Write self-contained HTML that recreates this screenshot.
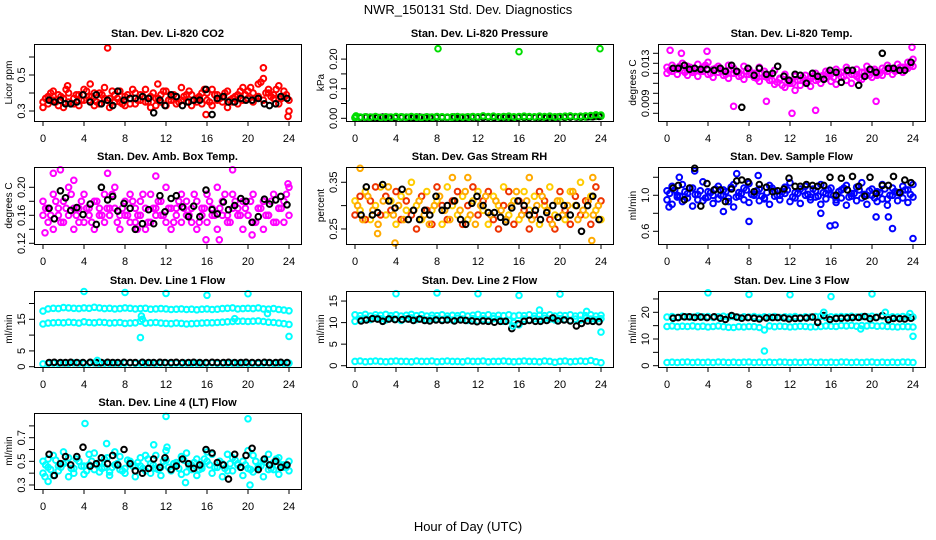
<!DOCTYPE html>
<html><head><meta charset="utf-8"><style>
html,body{margin:0;padding:0;background:#fff;}
svg{display:block;font-family:"Liberation Sans",sans-serif;}
</style></head><body>
<svg id="chart" width="936" height="540" viewBox="0 0 936 540" xmlns="http://www.w3.org/2000/svg">
<text x="468" y="14" text-anchor="middle" font-size="13">NWR_150131  Std. Dev. Diagnostics</text>
<text x="468" y="531" text-anchor="middle" font-size="13">Hour of Day (UTC)</text>
</svg>
<script>
// shared hour grids
const hours = [0,0.5,1,1.5,2,2.5,3,3.5,4,4.5,5,5.5,6,6.5,7,7.5,8,8.5,9,9.5,10,10.5,11,11.5,12,12.5,13,13.5,14,14.5,15,15.5,16,16.5,17,17.5,18,18.5,19,19.5,20,20.5,21,21.5,22,22.5,23,23.5,24];
const hoursMid = [0.25,0.75,1.25,1.75,2.25,2.75,3.25,3.75,4.25,4.75,5.25,5.75,6.25,6.75,7.25,7.75,8.25,8.75,9.25,9.75,10.25,10.75,11.25,11.75,12.25,12.75,13.25,13.75,14.25,14.75,15.25,15.75,16.25,16.75,17.25,17.75,18.25,18.75,19.25,19.75,20.25,20.75,21.25,21.75,22.25,22.75,23.25,23.75];
const blackHours = [0.6,1.1,1.7,2.2,2.7,3.3,3.9,4.6,5.2,5.7,6.3,6.8,7.3,7.9,8.5,9.0,9.7,10.3,10.8,11.4,11.9,12.5,13.0,13.6,14.2,14.7,15.3,15.9,16.5,17.0,17.6,18.1,18.7,19.3,19.8,20.4,21.0,21.6,22.1,22.7,23.2,23.8];
const xTicks = [0,4,8,12,16,20,24];

// CO2
const co2A = [0.35,0.38,0.41,0.33,0.37,0.40,0.34,0.39,0.42,0.36,0.33,0.40,0.43,0.37,0.35,0.41,0.38,0.34,0.40,0.36,0.42,0.38,0.33,0.39,0.41,0.36,0.38,0.43,0.35,0.39,0.37,0.34,0.40,0.42,0.36,0.38,0.41,0.35,0.39,0.43,0.37,0.40,0.45,0.48,0.42,0.39,0.44,0.41,0.36];
const co2B = [0.32,0.34,0.36,0.39,0.32,0.35,0.37,0.33,0.36,0.38,0.40,0.34,0.37,0.32,0.39,0.35,0.33,0.37,0.34,0.39,0.35,0.32,0.37,0.35,0.33,0.38,0.34,0.36,0.39,0.33,0.35,0.40,0.36,0.33,0.39,0.35,0.32,0.37,0.34,0.36,0.41,0.35,0.38,0.36,0.40,0.37,0.34,0.38,0.30];
const co2C = [0.37,0.40,0.35,0.38,0.42,0.34,0.39,0.36,0.41,0.38,0.35,0.39,0.36,0.41,0.37,0.34,0.39,0.42,0.36,0.38,0.35,0.40,0.37,0.41,0.36,0.39,0.35,0.38,0.41,0.36,0.38,0.42,0.35,0.39,0.37,0.40,0.36,0.38,0.41,0.39,0.43,0.37,0.46,0.40,0.38,0.42,0.37,0.39];
const co2OutHours = [6.3,21.5,23.9,4.6,11.2,2.4,15.9];
const co2Out = [0.65,0.54,0.27,0.45,0.45,0.44,0.28];
const co2Black = [0.36,0.35,0.36,0.34,0.34,0.35,0.39,0.35,0.39,0.34,0.36,0.33,0.41,0.36,0.37,0.37,0.38,0.37,0.29,0.36,0.33,0.39,0.38,0.33,0.35,0.36,0.36,0.42,0.28,0.37,0.38,0.35,0.35,0.37,0.36,0.36,0.37,0.34,0.33,0.34,0.38,0.37];

// Pressure
const presA = [0.003,0.004,0.005,0.004,0.006,0.003,0.005,0.004,0.006,0.005,0.004,0.006,0.005,0.003,0.005,0.004,0.006,0.005,0.004,0.005,0.006,0.004,0.005,0.006,0.005,0.008,0.006,0.007,0.005,0.006,0.007,0.005,0.006,0.007,0.006,0.005,0.007,0.006,0.007,0.005,0.006,0.007,0.008,0.006,0.007,0.008,0.009,0.012,0.011];
const presB = [0.001,0.002,0.003,0.001,0.002,0.003,0.002,0.001,0.003,0.002,0.003,0.001,0.002,0.003,0.002,0.001,0.003,0.002,0.003,0.002,0.001,0.003,0.002,0.003,0.002,0.004,0.003,0.002,0.004,0.003,0.002,0.003,0.004,0.002,0.003,0.004,0.003,0.002,0.004,0.003,0.004,0.003,0.004,0.005,0.003,0.004,0.005,0.006,0.007];
const presOutHours = [8.1,16.0,23.9,0.1];
const presOut = [0.235,0.225,0.235,0.008];
const presBlack = [0.003,0.004,0.003,0.003,0.004,0.003,0.003,0.004,0.003,0.003,0.004,0.003,0.003,0.004,0.003,0.003,0.004,0.003,0.003,0.004,0.003,0.003,0.004,0.003,0.003,0.004,0.003,0.003,0.004,0.003,0.003,0.004,0.003,0.003,0.004,0.004,0.004,0.004,0.005,0.005,0.005,0.006];

// Li-820 Temp
const tempA = [0.0126,0.0128,0.0124,0.0130,0.0127,0.0123,0.0129,0.0126,0.0131,0.0124,0.0127,0.0122,0.0128,0.0125,0.0121,0.0127,0.0124,0.0120,0.0126,0.0122,0.0118,0.0123,0.0115,0.0119,0.0112,0.0117,0.0113,0.0118,0.0115,0.0120,0.0117,0.0122,0.0119,0.0124,0.0121,0.0126,0.0119,0.0124,0.0121,0.0127,0.0123,0.0118,0.0125,0.0128,0.0124,0.0129,0.0126,0.0131,0.0134];
const tempB = [0.0120,0.0122,0.0119,0.0123,0.0118,0.0121,0.0117,0.0122,0.0119,0.0116,0.0121,0.0118,0.0115,0.0120,0.0117,0.0114,0.0119,0.0116,0.0112,0.0117,0.0113,0.0109,0.0114,0.0106,0.0110,0.0103,0.0108,0.0111,0.0107,0.0113,0.0110,0.0115,0.0112,0.0109,0.0116,0.0113,0.0110,0.0117,0.0114,0.0119,0.0116,0.0120,0.0118,0.0122,0.0119,0.0123,0.0121,0.0125,0.0127];
const tempC = [0.0123,0.0125,0.0127,0.0121,0.0126,0.0124,0.0122,0.0128,0.0120,0.0125,0.0123,0.0119,0.0124,0.0121,0.0118,0.0122,0.0119,0.0115,0.0120,0.0116,0.0113,0.0111,0.0108,0.0114,0.0110,0.0113,0.0116,0.0112,0.0117,0.0114,0.0118,0.0121,0.0116,0.0120,0.0117,0.0122,0.0119,0.0115,0.0121,0.0118,0.0124,0.0120,0.0123,0.0125,0.0122,0.0126,0.0124,0.0128];
const tempOutHours = [0.3,6.5,9.7,12.2,14.5,20.4,23.9,3.9,1.4];
const tempOut = [0.0143,0.0087,0.0092,0.0080,0.0083,0.0092,0.0146,0.0142,0.0140];
const tempBlack = [0.0125,0.0125,0.0128,0.0124,0.0125,0.0124,0.0124,0.0123,0.0125,0.0122,0.0128,0.0122,0.0086,0.0125,0.0118,0.0125,0.0119,0.0120,0.0127,0.0117,0.0113,0.0119,0.0118,0.0110,0.0120,0.0117,0.0114,0.0123,0.0121,0.0111,0.0123,0.0123,0.0108,0.0117,0.0124,0.0121,0.0140,0.0125,0.0125,0.0123,0.0123,0.0131];

// Amb box temp
const ambA = [0.18,0.17,0.19,0.16,0.18,0.20,0.17,0.15,0.19,0.17,0.18,0.16,0.19,0.17,0.20,0.16,0.18,0.19,0.15,0.18,0.17,0.19,0.16,0.18,0.20,0.17,0.16,0.19,0.18,0.15,0.18,0.17,0.19,0.16,0.20,0.18,0.16,0.19,0.17,0.18,0.16,0.19,0.17,0.18,0.16,0.19,0.17,0.18,0.20];
const ambB = [0.16,0.15,0.14,0.17,0.15,0.16,0.14,0.17,0.15,0.16,0.14,0.17,0.15,0.16,0.17,0.14,0.16,0.15,0.17,0.16,0.14,0.15,0.17,0.16,0.15,0.14,0.17,0.15,0.16,0.17,0.14,0.16,0.15,0.17,0.14,0.16,0.15,0.17,0.16,0.14,0.16,0.15,0.17,0.14,0.16,0.15,0.17,0.15,0.16];
const ambC = [0.17,0.16,0.18,0.15,0.17,0.19,0.16,0.18,0.17,0.15,0.18,0.16,0.17,0.19,0.15,0.17,0.16,0.18,0.16,0.19,0.15,0.17,0.18,0.16,0.17,0.15,0.18,0.17,0.16,0.19,0.15,0.17,0.18,0.16,0.17,0.19,0.15,0.18,0.16,0.17,0.18,0.15,0.17,0.16,0.18,0.15,0.17,0.19];
const ambOutHours = [0.2,1.0,1.7,6.3,11.0,15.9,17.2,18.5,20.4,23.9,3.0,9.2];
const ambOut = [0.135,0.22,0.225,0.22,0.216,0.125,0.125,0.225,0.132,0.205,0.21,0.14];
const ambBlack = [0.17,0.155,0.195,0.185,0.167,0.171,0.161,0.176,0.147,0.2,0.182,0.187,0.166,0.177,0.17,0.14,0.148,0.168,0.148,0.188,0.165,0.184,0.188,0.172,0.158,0.173,0.158,0.196,0.168,0.162,0.179,0.168,0.174,0.184,0.18,0.15,0.158,0.183,0.176,0.182,0.187,0.175];

// Gas stream RH
const rhA = [0.31,0.29,0.33,0.27,0.30,0.34,0.28,0.31,0.26,0.32,0.29,0.35,0.30,0.27,0.33,0.29,0.31,0.26,0.34,0.30,0.28,0.32,0.27,0.31,0.33,0.29,0.26,0.32,0.30,0.34,0.28,0.31,0.27,0.33,0.29,0.32,0.26,0.30,0.34,0.28,0.31,0.27,0.33,0.30,0.35,0.28,0.32,0.29,0.27];
const rhB = [0.28,0.32,0.27,0.31,0.34,0.28,0.32,0.29,0.33,0.27,0.31,0.28,0.25,0.32,0.29,0.26,0.34,0.30,0.27,0.31,0.33,0.26,0.30,0.34,0.28,0.31,0.33,0.27,0.25,0.30,0.33,0.26,0.31,0.29,0.25,0.28,0.33,0.31,0.27,0.25,0.33,0.29,0.26,0.32,0.28,0.31,0.26,0.34,0.31];
const rhC = [0.30,0.27,0.32,0.29,0.26,0.31,0.34,0.28,0.30,0.27,0.33,0.29,0.31,0.28,0.26,0.30,0.32,0.29,0.27,0.31,0.29,0.33,0.28,0.26,0.30,0.32,0.28,0.31,0.29,0.27,0.30,0.33,0.28,0.31,0.27,0.30,0.32,0.29,0.26,0.31,0.28,0.30,0.33,0.27,0.29,0.31,0.28,0.30];
const rhOutHours = [0.5,3.9,9.5,11.0,17.0,23.1,23.2,2.2];
const rhOut = [0.38,0.22,0.36,0.36,0.36,0.225,0.36,0.24];
const rhBlack = [0.28,0.34,0.28,0.285,0.345,0.31,0.295,0.335,0.27,0.29,0.27,0.29,0.28,0.32,0.29,0.30,0.31,0.27,0.26,0.305,0.32,0.30,0.285,0.285,0.275,0.265,0.295,0.31,0.30,0.28,0.29,0.27,0.285,0.30,0.275,0.30,0.28,0.30,0.245,0.30,0.32,0.27];

// Sample flow
const sampA = [1.05,1.10,0.98,1.12,1.02,1.08,0.95,1.15,1.04,1.00,1.10,1.06,0.97,1.12,1.03,1.08,1.13,1.01,1.07,0.96,1.11,1.05,1.00,1.09,1.14,1.03,1.07,1.10,0.98,1.05,1.12,1.02,1.08,0.95,1.06,1.11,1.02,1.09,1.14,1.00,1.07,1.04,1.12,0.96,1.08,1.03,1.10,1.06,1.12];
const sampB = [0.95,0.90,1.00,0.93,0.97,0.88,1.01,0.94,0.98,0.91,0.96,1.00,0.93,0.87,0.99,0.95,0.92,1.00,0.94,0.97,0.90,0.99,0.95,1.02,0.93,0.97,0.91,1.00,0.95,0.98,0.90,0.96,1.01,0.92,0.97,0.89,0.99,0.94,0.97,0.90,1.00,0.93,0.96,0.89,1.00,0.94,0.97,0.92,0.98];
const sampC = [1.02,1.06,0.99,1.04,1.08,1.01,1.05,0.97,1.03,1.07,1.00,1.04,1.09,0.98,1.02,1.06,1.01,1.05,0.99,1.03,1.08,1.00,1.04,1.06,0.98,1.02,1.05,1.01,1.07,0.99,1.03,1.06,1.00,1.04,1.08,0.98,1.02,1.06,1.01,1.05,0.97,1.03,1.07,1.00,1.04,1.02,1.06,1.01];
const sampOutHours = [0.2,2.7,5.5,8.0,15.0,15.9,16.4,20.4,21.6,22.0,24.0,8.9,1.2,6.8];
const sampOut = [0.87,1.27,0.82,0.71,0.80,0.66,0.67,0.76,0.76,0.63,0.52,1.22,1.20,1.24];
const sampBlack = [1.08,1.11,0.95,1.08,1.3,0.88,1.13,1.06,1.06,0.93,1.07,1.16,1.17,1.15,1.04,1.12,1.09,1.04,1.05,1.07,1.19,1.10,1.10,1.12,1.11,1.10,1.11,1.20,1.00,1.19,1.06,1.21,1.10,0.99,1.20,1.02,1.11,1.11,1.21,1.03,1.17,1.14];

// Line 1 flow
const l1A = [17.6,18.3,18.5,18.4,18.7,18.6,18.5,18.4,18.6,18.5,18.8,18.6,18.4,18.5,18.3,18.4,18.6,18.5,18.3,18.4,18.5,18.2,18.3,18.4,18.3,18.1,18.2,18.3,18.1,18.2,18.0,18.2,18.3,18.1,18.2,18.4,18.5,18.6,18.3,18.4,18.5,18.4,18.6,18.3,18.2,18.4,18.1,17.9,17.7];
const l1B = [13.5,13.8,13.9,14.0,13.9,14.1,14.0,13.8,14.2,14.0,13.9,14.1,14.0,13.8,13.9,14.0,13.7,13.8,13.9,14.4,13.8,13.9,14.0,13.8,13.7,13.6,13.8,13.7,13.5,13.6,13.7,13.8,13.9,13.9,14.0,14.1,14.2,14.3,14.4,14.4,14.3,14.4,14.5,14.3,14.1,14.0,13.8,13.6,13.4];
const l1C = [0.9,1.0,1.1,1.0,1.1,1.0,1.2,1.1,1.0,1.1,1.2,1.0,1.1,1.0,1.1,1.0,1.1,1.2,1.0,1.1,1.0,1.1,1.0,1.1,1.2,1.0,1.1,1.0,1.1,1.0,1.1,1.0,1.1,1.2,1.0,1.1,1.0,1.1,1.0,1.1,1.0,1.1,1.0,1.1,1.2,1.0,1.1,1.0,1.1];
const l1OutHours = [4,8,12,16,20,9.5,9.6,9.7,24,21.9,18.7,5.3];
const l1Out = [23.8,23.5,23.2,22.6,23.1,9.2,16.0,15.0,9.6,16.8,15.2,2.0];
const l1Black = [1.3,1.4,1.3,1.3,1.4,1.3,1.3,1.4,1.3,1.3,1.4,1.3,1.3,1.4,1.3,1.3,1.4,1.3,1.3,1.4,1.3,1.3,1.4,1.3,1.3,1.4,1.3,1.3,1.4,1.3,1.3,1.4,1.3,1.3,1.4,1.3,1.3,1.4,1.3,1.3,1.4,1.3];

// Line 2 flow
const l2A = [11.8,11.6,11.9,11.5,11.8,11.7,11.9,11.6,11.8,11.5,11.7,11.9,11.6,11.8,11.5,11.7,11.6,11.8,11.5,11.7,11.6,11.8,11.5,11.7,11.9,11.6,11.8,11.5,11.7,11.6,11.8,11.5,11.7,11.6,11.8,11.5,11.7,11.6,11.8,11.5,11.7,11.6,11.8,11.5,11.7,11.6,11.8,11.5,11.7];
const l2B = [10.3,10.8,11.0,10.7,11.1,10.9,10.6,11.0,10.8,10.5,10.9,11.1,10.7,10.9,10.6,11.0,10.8,10.7,10.9,10.6,11.0,10.8,10.5,10.9,10.4,10.8,10.6,10.9,10.7,10.3,10.5,10.0,9.5,10.8,10.6,10.9,10.7,11.0,10.8,10.6,10.9,10.7,10.5,10.8,10.6,11.0,10.8,10.7,10.9];
const l2C = [1.0,1.1,0.9,1.0,1.1,1.0,0.9,1.0,1.1,1.0,1.0,0.9,1.1,1.0,1.0,1.1,0.9,1.0,1.1,1.0,1.0,0.9,1.1,1.0,1.0,1.1,0.9,1.0,1.0,1.1,1.0,0.9,1.0,1.1,1.0,1.0,0.9,1.1,1.0,0.8,1.0,1.1,0.9,1.0,1.1,1.0,1.2,0.9,0.7];
const l2OutHours = [4,8,12,16,20,24,18,22.6,15.4];
const l2Out = [16.7,16.9,16.7,16.3,16.6,7.8,12.9,12.6,9.2];
const l2Black = [10.4,10.6,10.9,10.8,10.3,10.8,10.7,10.7,10.8,10.5,10.8,10.5,10.4,10.6,10.5,10.6,10.4,10.6,10.5,10.4,10.2,10.4,10.3,10.1,10.3,10.3,8.6,9.7,10.3,10.5,10.3,10.3,10.5,11.1,10.4,10.6,10.4,9.2,9.8,10.4,10.3,10.2];

// Line 3 flow
const l3A = [18.2,18.4,18.1,18.5,18.3,18.2,18.6,18.3,18.4,18.1,18.3,18.5,18.2,18.4,18.1,18.3,18.2,18.4,18.1,18.3,18.2,18.4,18.1,18.3,18.2,18.4,18.1,18.3,18.2,18.4,18.5,18.1,18.3,18.2,18.4,18.3,18.5,18.2,18.4,18.3,18.5,18.2,18.4,18.1,18.3,18.2,18.4,18.3,18.2];
const l3B = [14.7,14.9,14.6,14.8,14.7,14.9,14.6,14.8,14.5,14.7,14.9,14.6,14.4,14.3,14.6,14.5,14.7,14.6,14.3,13.4,14.9,14.6,14.8,14.7,14.5,14.6,14.8,14.7,14.5,14.6,14.7,14.9,14.8,14.7,15.0,14.9,15.1,14.8,15.0,14.9,15.1,14.8,14.9,14.7,14.6,14.5,14.7,14.6,14.5];
const l3C = [1.2,1.3,1.2,1.3,1.4,1.2,1.3,1.2,1.3,1.2,1.4,1.3,1.2,1.3,1.2,1.3,1.4,1.2,1.3,1.2,1.3,1.2,1.4,1.3,1.2,1.3,1.2,1.3,1.4,1.2,1.3,1.2,1.3,1.2,1.4,1.3,1.2,1.3,1.2,1.3,1.4,1.2,1.3,1.2,1.3,1.2,1.4,1.3,1.2];
const l3OutHours = [4,8,12,16,20,9.5,24,15.3,21.3,23.7,18.9];
const l3Out = [27.3,26.7,26.6,25.9,26.9,5.5,11.0,20.0,20.0,19.5,13.8];
const l3Black = [17.8,18.0,18.3,18.3,18.1,18.2,18.0,18.3,17.8,17.3,18.8,18.2,17.8,18.0,17.8,17.5,17.9,18.0,18.0,17.9,17.5,17.7,17.8,17.9,18.2,16.2,18.8,17.3,17.7,17.8,17.9,18.0,18.1,18.4,17.6,18.0,18.8,17.2,17.7,17.6,17.5,17.8];

// Line 4 (LT) flow
const l4A = [0.50,0.45,0.55,0.42,0.48,0.53,0.40,0.50,0.46,0.56,0.43,0.49,0.52,0.41,0.47,0.54,0.44,0.50,0.46,0.53,0.42,0.48,0.55,0.45,0.51,0.43,0.49,0.54,0.41,0.47,0.52,0.44,0.50,0.56,0.45,0.48,0.42,0.53,0.47,0.50,0.44,0.55,0.46,0.51,0.43,0.49,0.53,0.45,0.50];
const l4B = [0.40,0.52,0.38,0.46,0.58,0.37,0.44,0.50,0.39,0.47,0.57,0.41,0.45,0.38,0.58,0.43,0.40,0.49,0.37,0.46,0.55,0.40,0.44,0.38,0.59,0.42,0.47,0.39,0.57,0.43,0.38,0.46,0.58,0.40,0.45,0.37,0.56,0.42,0.48,0.38,0.59,0.41,0.45,0.37,0.56,0.43,0.39,0.47,0.42];
const l4C = [0.47,0.43,0.51,0.45,0.49,0.44,0.52,0.46,0.42,0.50,0.47,0.44,0.53,0.45,0.48,0.42,0.51,0.46,0.49,0.44,0.52,0.47,0.43,0.50,0.45,0.48,0.44,0.51,0.46,0.49,0.43,0.52,0.47,0.45,0.50,0.44,0.48,0.51,0.45,0.47,0.43,0.50,0.46,0.49,0.44,0.52,0.47,0.45];
const l4OutHours = [4.1,12.0,20.0,0.2,0.5,6.2,10.8,13.9,20.2,12.1];
const l4Out = [0.82,0.88,0.86,0.37,0.33,0.65,0.64,0.32,0.30,0.62];
const l4Black = [0.56,0.38,0.48,0.54,0.47,0.54,0.62,0.46,0.48,0.53,0.48,0.55,0.47,0.60,0.48,0.42,0.40,0.44,0.52,0.45,0.53,0.43,0.46,0.52,0.48,0.44,0.47,0.60,0.57,0.49,0.47,0.35,0.56,0.45,0.55,0.61,0.43,0.52,0.47,0.50,0.45,0.47];

const SVGNS = 'http://www.w3.org/2000/svg';
const svg = document.getElementById('chart');
const colLeft = [34, 346, 658];
const rowBox = [[44,121],[167,244],[291,367],[413,489]];

function mk(tag, attrs, parent) {
  const e = document.createElementNS(SVGNS, tag);
  for (const k in attrs) e.setAttribute(k, attrs[k]);
  parent.appendChild(e);
  return e;
}

function panel(cfg) {
  const g = mk('g', {}, svg);
  
  
  const L = colLeft[cfg.col], R = L + 267;
  const T = rowBox[cfg.row][0], B = rowBox[cfg.row][1];
  const xs = h => L + 9 + h * (246 / 24);
  const ys = v => B - (v - cfg.dom[0]) / (cfg.dom[1] - cfg.dom[0]) * (B - T);
  const t = mk('text', {x: (L + R) / 2, y: T - 7, 'text-anchor': 'middle', 'font-size': 11, 'font-weight': 'bold'}, g);
  
  
  t.textContent = cfg.title;
  const pts = mk('g', {fill: 'none'}, g);
  
  
  cfg.series.forEach(s => {
    s.v.forEach((v, i) => {
      const c = mk('circle', {cx: xs(s.h[i]).toFixed(1), cy: ys(v).toFixed(1), r: 2.8, stroke: s.c, 'stroke-width': s.w || 2}, pts);
      
      
    });
  });
  const bx = mk('rect', {x: L + 0.5, y: T + 0.5, width: R - L, height: B - T, fill: 'none', stroke: '#000', 'stroke-width': 1}, g);
  
  
  const xa = mk('g', {}, g);
  
  
  mk('line', {x1: xs(0), x2: xs(24), y1: B + 0.5, y2: B + 0.5, stroke: '#000'}, xa);
  xTicks.forEach(h => {
    mk('line', {x1: xs(h), x2: xs(h), y1: B, y2: B + 5, stroke: '#000'}, xa);
    const tl = mk('text', {x: xs(h), y: B + 21, 'text-anchor': 'middle', 'font-size': 11}, xa);
    
    
    tl.textContent = h;
  });
  const ya = mk('g', {}, g);
  
  
  const tk = cfg.ticks;
  mk('line', {x1: L + 0.5, x2: L + 0.5, y1: ys(tk[0]), y2: ys(tk[tk.length - 1]), stroke: '#000'}, ya);
  tk.forEach(v => mk('line', {x1: L - 5, x2: L, y1: ys(v), y2: ys(v), stroke: '#000'}, ya));
  cfg.labels.forEach((v, i) => {
    const yy = ys(v);
    const tl = mk('text', {x: 0, y: 0, transform: `translate(${L - 9},${yy}) rotate(-90)`, 'text-anchor': 'middle', 'font-size': 11}, ya);
    
    
    tl.textContent = cfg.labelText[i];
  });
  const yt = mk('text', {x: 0, y: 0, transform: `translate(${L - 22},${(T + B) / 2}) rotate(-90)`, 'text-anchor': 'middle', 'font-size': 10}, ya);
  
  
  yt.textContent = cfg.ylab;
}

const K = '#000';
panel({name: 'panel-co2', col: 0, row: 0, title: 'Stan. Dev. Li-820 CO2', ylab: 'Licor ppm', dom: [0.2444, 0.6722],
  ticks: [0.3,0.4,0.5,0.6], labels: [0.3,0.5], labelText: ['0.3','0.5'],
  series: [{h: hours, v: co2B, c: '#ff0000'}, {h: hours, v: co2A, c: '#ff0000'}, {h: hoursMid, v: co2C, c: '#ff0000'}, {h: co2OutHours, v: co2Out, c: '#ff0000'}, {h: blackHours, v: co2Black, c: K, w: 2}]});
panel({name: 'panel-pressure', col: 1, row: 0, title: 'Stan. Dev. Li-820 Pressure', ylab: 'kPa', dom: [-0.0091, 0.251],
  ticks: [0,0.05,0.1,0.15,0.2], labels: [0,0.1,0.2], labelText: ['0.00','0.10','0.20'],
  series: [{h: hours, v: presB, c: '#00dd00'}, {h: blackHours, v: presBlack, c: K, w: 2}, {h: hours, v: presA, c: '#00dd00'}, {h: presOutHours, v: presOut, c: '#00dd00'}]});
panel({name: 'panel-temp', col: 2, row: 0, title: 'Stan. Dev. Li-820 Temp.', ylab: 'degrees C', dom: [0.00723, 0.01493],
  ticks: [0.008,0.009,0.010,0.011,0.012,0.013,0.014], labels: [0.009,0.013], labelText: ['0.009','0.013'],
  series: [{h: hours, v: tempB, c: '#ff00ff'}, {h: hours, v: tempA, c: '#ff00ff'}, {h: hoursMid, v: tempC, c: '#ff00ff'}, {h: tempOutHours, v: tempOut, c: '#ff00ff'}, {h: blackHours, v: tempBlack, c: K, w: 2}]});
panel({name: 'panel-amb-box-temp', col: 0, row: 1, title: 'Stan. Dev. Amb. Box Temp.', ylab: 'degrees C', dom: [0.119, 0.229],
  ticks: [0.12,0.14,0.16,0.18,0.20], labels: [0.12,0.16,0.20], labelText: ['0.12','0.16','0.20'],
  series: [{h: hours, v: ambB, c: '#ff00ff'}, {h: hours, v: ambA, c: '#ff00ff'}, {h: hoursMid, v: ambC, c: '#ff00ff'}, {h: ambOutHours, v: ambOut, c: '#ff00ff'}, {h: blackHours, v: ambBlack, c: K, w: 2}]});
panel({name: 'panel-gas-rh', col: 1, row: 1, title: 'Stan. Dev. Gas Stream RH', ylab: 'percent', dom: [0.2178, 0.3827],
  ticks: [0.25,0.30,0.35], labels: [0.25,0.35], labelText: ['0.25','0.35'],
  series: [{h: hours, v: rhA, c: '#ffcc00'}, {h: hours, v: rhB, c: '#ee3300'}, {h: hoursMid, v: rhC, c: '#ffaa00'}, {h: rhOutHours, v: rhOut, c: '#ffaa00'}, {h: blackHours, v: rhBlack, c: K, w: 2}]});
panel({name: 'panel-sample-flow', col: 2, row: 1, title: 'Stan. Dev. Sample Flow', ylab: 'ml/min', dom: [0.459, 1.314],
  ticks: [0.6,0.8,1.0,1.2], labels: [0.6,1.0], labelText: ['0.6','1.0'],
  series: [{h: hours, v: sampB, c: '#0000ff'}, {h: hours, v: sampA, c: '#0000ff'}, {h: hoursMid, v: sampC, c: '#0000ff'}, {h: sampOutHours, v: sampOut, c: '#0000ff'}, {h: blackHours, v: sampBlack, c: K, w: 2}]});
panel({name: 'panel-line1-flow', col: 0, row: 2, title: 'Stan. Dev. Line 1 Flow', ylab: 'ml/min', dom: [-0.095, 23.96],
  ticks: [0,5,10,15,20], labels: [0,5,15], labelText: ['0','5','15'],
  series: [{h: hours, v: l1A, c: '#00ffff'}, {h: hours, v: l1B, c: '#00ffff'}, {h: hours, v: l1C, c: '#00ffff'}, {h: blackHours, v: l1Black, c: K, w: 2}, {h: l1OutHours, v: l1Out, c: '#00ffff'}]});
panel({name: 'panel-line2-flow', col: 1, row: 2, title: 'Stan. Dev. Line 2 Flow', ylab: 'ml/min', dom: [-0.3, 17.33],
  ticks: [0,5,10,15], labels: [0,5,10,15], labelText: ['0','5','10','15'],
  series: [{h: hours, v: l2A, c: '#00ffff'}, {h: hours, v: l2B, c: '#00ffff'}, {h: hours, v: l2C, c: '#00ffff'}, {h: blackHours, v: l2Black, c: K, w: 2}, {h: l2OutHours, v: l2Out, c: '#00ffff'}]});
panel({name: 'panel-line3-flow', col: 2, row: 2, title: 'Stan. Dev. Line 3 Flow', ylab: 'ml/min', dom: [-0.49, 27.98],
  ticks: [0,5,10,15,20,25], labels: [0,10,20], labelText: ['0','10','20'],
  series: [{h: hours, v: l3A, c: '#00ffff'}, {h: hours, v: l3B, c: '#00ffff'}, {h: hours, v: l3C, c: '#00ffff'}, {h: blackHours, v: l3Black, c: K, w: 2}, {h: l3OutHours, v: l3Out, c: '#00ffff'}]});
panel({name: 'panel-line4-flow', col: 0, row: 3, title: 'Stan. Dev. Line 4 (LT) Flow', ylab: 'ml/min', dom: [0.266, 0.909],
  ticks: [0.3,0.4,0.5,0.6,0.7,0.8], labels: [0.3,0.5,0.7], labelText: ['0.3','0.5','0.7'],
  series: [{h: hours, v: l4B, c: '#00ffff'}, {h: hours, v: l4A, c: '#00ffff'}, {h: hoursMid, v: l4C, c: '#00ffff'}, {h: l4OutHours, v: l4Out, c: '#00ffff'}, {h: blackHours, v: l4Black, c: K, w: 2}]});
</script>
</body></html>
